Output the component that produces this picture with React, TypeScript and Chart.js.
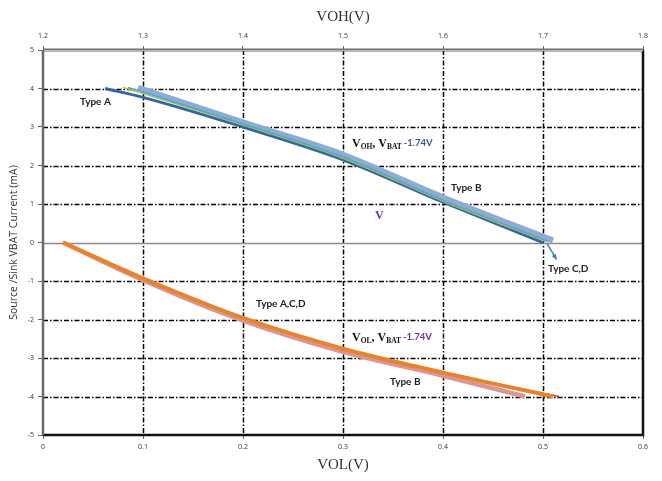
import React, { useEffect, useRef } from "react";
import { Chart, registerables } from "chart.js";

Chart.register(...registerables);

// ---- Data ----
const volTicks = [0, 0.1, 0.2, 0.3, 0.4, 0.5, 0.6];
const vohTicks = [1.2, 1.3, 1.4, 1.5, 1.6, 1.7, 1.8];
const currentTicks = [-5, -4, -3, -2, -1, 0, 1, 2, 3, 4, 5];

// Source (VOH) curves, top axis
const vohTypeA_V = [1.262, 1.3, 1.4, 1.5, 1.6, 1.7];
const vohTypeA_I = [4.0, 3.77, 3.0, 2.15, 1.05, 0.0];
const vohTypeB_V = [1.295, 1.4, 1.5, 1.6, 1.71];
const vohTypeB_I = [4.02, 3.12, 2.28, 1.17, 0.05];
const vohTypeC_V = [1.285, 1.4, 1.5, 1.6, 1.705];
const vohTypeC_I = [4.03, 3.08, 2.22, 1.1, 0.03];
const vohTypeD_V = [1.28, 1.4, 1.5, 1.6, 1.703];
const vohTypeD_I = [4.03, 3.05, 2.19, 1.07, 0.02];

// Sink (VOL) curves, bottom axis
const volTypeA_V = [0.02, 0.1, 0.2, 0.3, 0.4, 0.51];
const volTypeA_I = [0, -0.93, -1.96, -2.76, -3.38, -4.0];
const volTypeB_V = [0.02, 0.1, 0.2, 0.3, 0.4, 0.482];
const volTypeB_I = [0, -0.98, -2.03, -2.84, -3.46, -4.0];
const volTypeC_V = [0.02, 0.1, 0.2, 0.3, 0.4, 0.516];
const volTypeC_I = [0, -0.925, -1.95, -2.75, -3.37, -4.0];

const toPts = (xs: number[], ys: number[]) => xs.map((x, i) => ({ x, y: ys[i] }));

const dashDot = [5, 2, 1.5, 2];

const framePlugin = {
  id: "frame",
  beforeDatasetsDraw(chart: any) {
    const { ctx, chartArea: a, scales } = chart;
    const xs = scales.x;
    const ys = scales.y;
    ctx.save();
    ctx.strokeStyle = "#000";
    ctx.lineWidth = 1.5;
    ctx.setLineDash(dashDot);
    volTicks.forEach((v) => {
      if (v === volTicks[0] || v === volTicks[volTicks.length - 1]) return;
      const px = Math.round(xs.getPixelForValue(v)) + 0.5;
      ctx.beginPath();
      ctx.moveTo(px, a.top);
      ctx.lineTo(px, a.bottom);
      ctx.stroke();
    });
    currentTicks.forEach((v) => {
      if (v === 5 || v === -5 || v === 0) return;
      const py = Math.round(ys.getPixelForValue(v)) + 0.5;
      ctx.beginPath();
      ctx.moveTo(a.left, py);
      ctx.lineTo(a.right, py);
      ctx.stroke();
    });
    ctx.setLineDash([]);
    const pz = Math.round(ys.getPixelForValue(0)) + 0.5;
    ctx.strokeStyle = "#8c8c8c";
    ctx.lineWidth = 1.5;
    ctx.beginPath();
    ctx.moveTo(a.left, pz);
    ctx.lineTo(a.right, pz);
    ctx.stroke();
    ctx.strokeStyle = "#111";
    ctx.lineWidth = 2.5;
    ctx.beginPath();
    ctx.moveTo(a.left, a.bottom);
    ctx.lineTo(a.right, a.bottom);
    ctx.lineTo(a.right, a.top);
    ctx.stroke();
    ctx.strokeStyle = "#6e6e6e";
    ctx.lineWidth = 3;
    ctx.beginPath();
    ctx.moveTo(a.left, a.top);
    ctx.lineTo(a.right, a.top);
    ctx.stroke();
    ctx.strokeStyle = "#bdbdbd";
    ctx.lineWidth = 1;
    ctx.beginPath();
    ctx.moveTo(a.left, a.top + 0.5);
    ctx.lineTo(a.right, a.top + 0.5);
    ctx.stroke();
    ctx.strokeStyle = "#6a6a6a";
    ctx.lineWidth = 2.5;
    ctx.beginPath();
    ctx.moveTo(a.left, a.top);
    ctx.lineTo(a.left, a.bottom);
    ctx.stroke();
    ctx.restore();
  },
  afterDatasetsDraw(chart: any) {
    const { ctx, scales } = chart;
    const xs = scales.x;
    const x2 = scales.x2;
    const ys = scales.y;
    const X = (v: number) => xs.getPixelForValue(v);
    const Y = (v: number) => ys.getPixelForValue(v);
    ctx.save();

    const ax0 = x2.getPixelForValue(1.704), ay0 = Y(-0.02);
    const ax1 = x2.getPixelForValue(1.713), ay1 = Y(-0.42);
    ctx.strokeStyle = "#4a7ebb";
    ctx.fillStyle = "#4a7ebb";
    ctx.lineWidth = 1.5;
    ctx.beginPath();
    ctx.moveTo(ax0, ay0);
    ctx.lineTo(ax1, ay1);
    ctx.stroke();
    const ang = Math.atan2(ay1 - ay0, ax1 - ax0);
    ctx.beginPath();
    ctx.moveTo(ax1 + 2 * Math.cos(ang), ay1 + 2 * Math.sin(ang));
    ctx.lineTo(ax1 - 5 * Math.cos(ang - 0.5), ay1 - 5 * Math.sin(ang - 0.5));
    ctx.lineTo(ax1 - 5 * Math.cos(ang + 0.5), ay1 - 5 * Math.sin(ang + 0.5));
    ctx.closePath();
    ctx.fill();

    ctx.fillStyle = "#222";
    ctx.font = "bold 10px Lato";
    ctx.textAlign = "left";
    ctx.textBaseline = "middle";
    const lbl = (t: string, x: number, y: number) => ctx.fillText(t, X(x), Y(y));
    lbl("Type A", 0.037, 3.66);
    lbl("Type B", 0.408, 1.43);
    lbl("Type C,D", 0.505, -0.67);
    lbl("Type A,C,D", 0.213, -1.58);
    lbl("Type B", 0.347, -3.61);

    const vLabel = (x: number, y: number, sub: string, color: string) => {
      let px = X(x);
      const py = Y(y);
      ctx.textBaseline = "alphabetic";
      ctx.fillStyle = "#111";
      const big = "bold 12px 'Liberation Serif'";
      const small = "bold 7.5px 'Liberation Serif'";
      ctx.font = big;
      ctx.fillText("V", px, py);
      px += ctx.measureText("V").width;
      ctx.font = small;
      ctx.fillText(sub, px, py + 2);
      px += ctx.measureText(sub).width;
      ctx.font = big;
      ctx.fillText(",", px, py);
      px += ctx.measureText(", ").width;
      ctx.fillText("V", px, py);
      px += ctx.measureText("V").width;
      ctx.font = small;
      ctx.fillText("BAT", px, py + 2);
      px += ctx.measureText("BAT ").width;
      ctx.fillStyle = color;
      ctx.font = "bold 9.5px Lato";
      ctx.fillText("-1.74V", px, py - 1);
    };
    vLabel(0.309, 2.47, "OH", "#3b5b8f");
    vLabel(0.309, -2.57, "OL", "#7030a0");

    ctx.fillStyle = "#7030a0";
    ctx.font = "bold 12px 'Liberation Serif'";
    ctx.textBaseline = "alphabetic";
    ctx.fillText("V", X(0.332), Y(0.6));
    ctx.restore();
  },
};

export default function App() {
  const ref = useRef<HTMLCanvasElement | null>(null);
  useEffect(() => {
    if (!ref.current) return;
    const tickFont = { size: 7, family: "'Open Sans'" };
    // Chart.js draws the first dataset on top, so list top-most first
    const chart = new Chart(ref.current, {
      type: "scatter",
      data: {
        datasets: [
          { label: "VOL Type A", data: toPts(volTypeA_V, volTypeA_I), xAxisID: "x", borderColor: "#e8832c", borderWidth: 4 },
          { label: "VOL Type C", data: toPts(volTypeC_V, volTypeC_I), xAxisID: "x", borderColor: "#b8423f", borderWidth: 1.5 },
          { label: "VOL Type B", data: toPts(volTypeB_V, volTypeB_I), xAxisID: "x", borderColor: "#d99694", borderWidth: 4.5 },
          { label: "VOH Type C", data: toPts(vohTypeC_V, vohTypeC_I), xAxisID: "x2", borderColor: "#4bacc6", borderWidth: 1.5 },
          { label: "VOH Type D", data: toPts(vohTypeD_V, vohTypeD_I), xAxisID: "x2", borderColor: "#a9c23f", borderWidth: 1.5 },
          { label: "VOH Type A", data: toPts(vohTypeA_V, vohTypeA_I), xAxisID: "x2", borderColor: "#3863a6", borderWidth: 3 },
          { label: "VOH Type B", data: toPts(vohTypeB_V, vohTypeB_I), xAxisID: "x2", borderColor: "#8eaad6", borderWidth: 6 },
        ].map((d) => ({ ...d, showLine: true, pointRadius: 0, cubicInterpolationMode: "monotone" as const, fill: false })),
      },
      options: {
        responsive: false,
        animation: false,
        devicePixelRatio: 1,
        layout: { padding: { left: 0, right: 19, top: 0, bottom: 0 } },
        plugins: { legend: { display: false }, tooltip: { enabled: false } },
        scales: {
          x: {
            type: "linear",
            position: "bottom",
            min: 0,
            max: 0.6,
            afterBuildTicks: (s: any) => { s.ticks = volTicks.map((v) => ({ value: v })); },
            afterFit: (s: any) => { s.height = 46; },
            ticks: { font: tickFont, color: "#333", padding: 4, maxRotation: 0, callback: (v: any) => String(+Number(v).toFixed(1)) },
            grid: { display: true, drawOnChartArea: false, drawTicks: true, tickLength: 4, color: "#666" },
            border: { display: false },
            title: { display: true, text: "VOL(V)", font: { size: 15, family: "'Liberation Serif'" }, color: "#333", padding: { top: 0, bottom: 7 } },
          },
          x2: {
            type: "linear",
            position: "top",
            min: 1.2,
            max: 1.8,
            afterBuildTicks: (s: any) => { s.ticks = vohTicks.map((v) => ({ value: v })); },
            afterFit: (s: any) => { s.height = 50; },
            ticks: { font: tickFont, color: "#333", padding: 6, maxRotation: 0, callback: (v: any) => Number(v).toFixed(1) },
            grid: { display: true, drawOnChartArea: false, drawTicks: true, tickLength: 4, color: "#666" },
            border: { display: false },
            title: { display: true, text: "VOH(V)", font: { size: 15, family: "'Liberation Serif'" }, color: "#333", padding: { top: 8, bottom: 0 } },
          },
          y: {
            type: "linear",
            position: "left",
            min: -5,
            max: 5,
            afterBuildTicks: (s: any) => { s.ticks = currentTicks.map((v) => ({ value: v })); },
            afterFit: (s: any) => { s.width = 43; },
            ticks: { font: tickFont, color: "#333", padding: 4 },
            grid: { display: true, drawOnChartArea: false, drawTicks: true, tickLength: 5, color: "#666" },
            border: { display: false },
            title: { display: true, text: "Source /Sink VBAT Current (mA)", font: { size: 10.5, family: "'Open Sans'" }, color: "#333", padding: { top: 8, bottom: 0 } },
          },
        },
      },
      plugins: [framePlugin],
    });
    return () => chart.destroy();
  }, []);
  return (
    <div style={{ position: "absolute", left: 0, top: 0, width: 662, height: 481, background: "#fff" }}>
      <canvas ref={ref} width={662} height={481} />
    </div>
  );
}
